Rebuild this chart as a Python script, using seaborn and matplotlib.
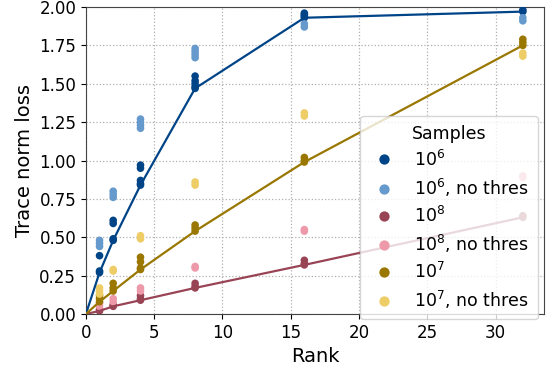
import numpy as np
import pandas as pd
import matplotlib
matplotlib.use("Agg")
import matplotlib.pyplot as plt
import seaborn as sns

ranks_levels = [1, 2, 4, 8, 16, 32]

series_names = [r"$10^6$", r"$10^6$, no thres", r"$10^8$", r"$10^8$, no thres",
                r"$10^7$", r"$10^7$, no thres"]
colors = ["#004488", "#6699CC", "#994455", "#EE99AA", "#997700", "#EECC66"]
thresholded = [r"$10^6$", r"$10^8$", r"$10^7$"]

# values per rank (several runs per rank)
v_1e6 = [[0.27, 0.28, 0.38], [0.48, 0.49, 0.59, 0.61], [0.84, 0.85, 0.87, 0.95, 0.97],
         [1.47, 1.48, 1.50, 1.52, 1.55], [1.93, 1.94, 1.95, 1.96], [1.97, 1.98]]
v_1e6_nt = [[0.44, 0.46, 0.48], [0.76, 0.78, 0.80], [1.21, 1.23, 1.25, 1.27],
            [1.67, 1.69, 1.71, 1.73], [1.87, 1.89], [1.91, 1.93]]
v_1e8 = [[0.02, 0.03], [0.05, 0.06], [0.09, 0.10, 0.12],
         [0.17, 0.18, 0.20], [0.32, 0.33, 0.35], [0.63, 0.64]]
v_1e8_nt = [[0.05, 0.07], [0.08, 0.10], [0.15, 0.17],
            [0.30, 0.31], [0.54, 0.55], [0.89, 0.90]]
v_1e7 = [[0.08, 0.10, 0.12], [0.15, 0.17, 0.20], [0.29, 0.30, 0.34, 0.37],
         [0.54, 0.56, 0.58], [0.99, 1.00, 1.02], [1.75, 1.77, 1.79]]
v_1e7_nt = [[0.13, 0.15, 0.17], [0.28, 0.29], [0.49, 0.51],
            [0.84, 0.86], [1.29, 1.31], [1.68, 1.70]]

all_vals = [v_1e6, v_1e6_nt, v_1e8, v_1e8_nt, v_1e7, v_1e7_nt]

rows = []
for name, vals in zip(series_names, all_vals):
    for r, vs in zip(ranks_levels, vals):
        for v in vs:
            rows.append({"Samples": name, "Rank": r, "loss": v})
df = pd.DataFrame(rows)

# line data: best run at each rank, starting from the origin
line_df = df[df["Samples"].isin(thresholded)].copy()
origin = pd.DataFrame({"Samples": thresholded, "Rank": [0] * 3, "loss": [0.0] * 3})
line_df = pd.concat([origin, line_df], ignore_index=True)

palette = dict(zip(series_names, colors))

fig = plt.figure(figsize=(5.47, 3.71), dpi=100)
ax = fig.add_axes([0.157, 0.1536, 0.8375, 0.8275])

sns.scatterplot(data=df, x="Rank", y="loss", hue="Samples", hue_order=series_names,
                palette=palette, s=30, linewidth=0, ax=ax, zorder=3)
sns.lineplot(data=line_df, x="Rank", y="loss", hue="Samples", hue_order=thresholded,
             palette=palette, estimator="min", errorbar=None, linewidth=1.6,
             legend=False, ax=ax, zorder=4)

ax.set_xlim(0, 33.55)
ax.set_ylim(0, 2.0)
ax.set_xticks([0, 5, 10, 15, 20, 25, 30])
ax.set_yticks(np.arange(0, 2.01, 0.25))
ax.yaxis.set_major_formatter(matplotlib.ticker.FormatStrFormatter("%.2f"))
ax.tick_params(labelsize=12)
ax.set_xlabel("Rank", fontsize=14)
ax.set_ylabel("Trace norm loss", fontsize=14)
ax.grid(True, linestyle=":", color="#b0b0b0", linewidth=0.9)
ax.set_axisbelow(True)
for sp in ax.spines.values():
    sp.set_color("#444444")

leg = ax.legend(title="Samples", loc="lower right", bbox_to_anchor=(1.005, -0.046),
                fontsize=12.5, title_fontsize=12.5, markerscale=1.35,
                labelspacing=0.4, handletextpad=0.9, handlelength=1.7,
                borderpad=0.5, framealpha=0.8)

fig.savefig("out.png", dpi=100)
